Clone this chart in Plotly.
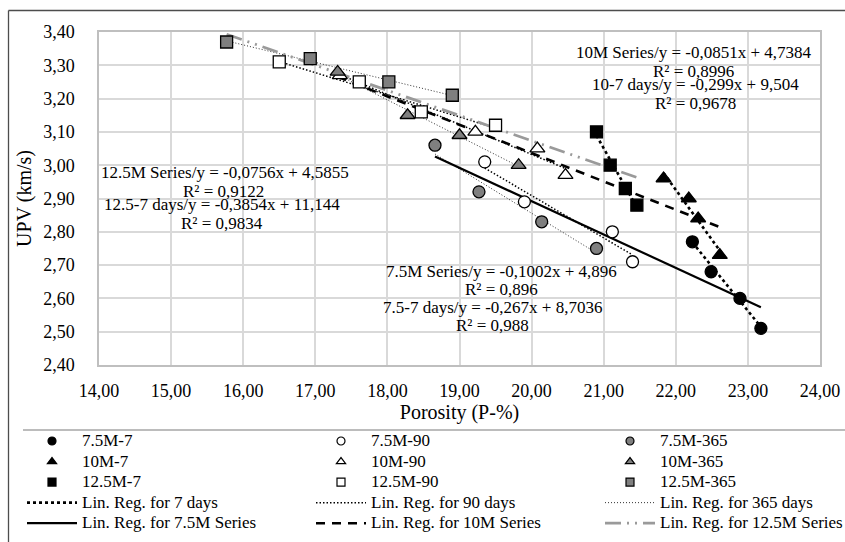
import numpy as np
import plotly.graph_objects as go

FONT = "Liberation Serif"

# ---------------- data: porosity (%) vs UPV (km/s) ----------------
x_75_7 = [22.23, 22.49, 22.89, 23.18]
y_75_7 = [2.77, 2.68, 2.60, 2.51]
x_75_90 = [19.35, 19.90, 21.12, 21.40]
y_75_90 = [3.01, 2.89, 2.80, 2.71]
x_75_365 = [18.66, 19.27, 20.14, 20.90]
y_75_365 = [3.06, 2.92, 2.83, 2.75]

x_10_7 = [21.83, 22.18, 22.31, 22.61]
y_10_7 = [2.96, 2.90, 2.84, 2.73]
x_10_90 = [17.34, 19.22, 20.08, 20.47]
y_10_90 = [3.27, 3.10, 3.05, 2.97]
x_10_365 = [17.31, 18.28, 19.00, 19.82]
y_10_365 = [3.28, 3.15, 3.09, 3.00]

x_125_7 = [20.90, 21.09, 21.30, 21.46]
y_125_7 = [3.10, 3.00, 2.93, 2.88]
x_125_90 = [16.50, 17.61, 18.47, 19.50]
y_125_90 = [3.31, 3.25, 3.16, 3.12]
x_125_365 = [15.77, 16.93, 18.02, 18.90]
y_125_365 = [3.37, 3.32, 3.25, 3.21]

mixes = ["7.5M", "10M", "12.5M"]
ages = ["7", "90", "365"]

# reported regression coefficients (slope, intercept)
slope_7days = [-0.267, -0.299, -0.3854]
icpt_7days = [8.7036, 9.504, 11.144]
slope_series = [-0.1002, -0.0851, -0.0756]
icpt_series = [4.896, 4.7384, 4.5855]

eq_series = ["7.5M Series/y = -0,1002x + 4,896", "10M Series/y = -0,0851x + 4,7384",
             "12.5M Series/y = -0,0756x + 4,5855"]
r2_series = ["R² = 0,896", "R² = 0,8996", "R² = 0,9122"]
eq_7days = ["7.5-7 days/y = -0,267x + 8,7036", "10-7 days/y = -0,299x + 9,504",
            "12.5-7 days/y = -0,3854x + 11,144"]
r2_7days = ["R² = 0,988", "R² = 0,9678", "R² = 0,9834"]

X = {("7.5M", "7"): x_75_7, ("7.5M", "90"): x_75_90, ("7.5M", "365"): x_75_365,
     ("10M", "7"): x_10_7, ("10M", "90"): x_10_90, ("10M", "365"): x_10_365,
     ("12.5M", "7"): x_125_7, ("12.5M", "90"): x_125_90, ("12.5M", "365"): x_125_365}
Y = {("7.5M", "7"): y_75_7, ("7.5M", "90"): y_75_90, ("7.5M", "365"): y_75_365,
     ("10M", "7"): y_10_7, ("10M", "90"): y_10_90, ("10M", "365"): y_10_365,
     ("12.5M", "7"): y_125_7, ("12.5M", "90"): y_125_90, ("12.5M", "365"): y_125_365}

# ---------------- styles ----------------
SYMBOL = {"7.5M": "circle", "10M": "triangle-up", "12.5M": "square"}
SIZE = {"7.5M": 12, "10M": 13, "12.5M": 12}
FILL = {"7": "black", "90": "white", "365": "#7f7f7f"}
LEG = {"7": "legend", "90": "legend2", "365": "legend3"}
AGE_LINE = {"7": dict(color="black", width=2.6, dash="3px,3px"),
            "90": dict(color="black", width=1.5, dash="1.5px,2px"),
            "365": dict(color="#333333", width=1.0, dash="1px,2px")}
SERIES_LINE = {"7.5M": dict(color="black", width=2.2, dash="solid"),
               "10M": dict(color="black", width=2.6, dash="9px,7px"),
               "12.5M": dict(color="#9a9a9a", width=2.8, dash="16px,6px,2px,6px,2px,6px")}
SERIES_LEG = {"7.5M": "legend", "10M": "legend2", "12.5M": "legend3"}


def lt(s):
    return '<span style="font-size:17px">' + s + '</span>'


fig = go.Figure()

# ---- regression lines per age ----
for age in ages:
    lx, ly = [], []
    for i, m in enumerate(mixes):
        xs = np.array(X[(m, age)])
        ys = np.array(Y[(m, age)])
        if age == "7":
            a, b = slope_7days[i], icpt_7days[i]
        else:
            a, b = np.polyfit(xs, ys, 1)
        x0, x1 = xs.min(), xs.max()
        lx += [x0, x1, None]
        ly += [a * x0 + b, a * x1 + b, None]
    fig.add_trace(go.Scatter(x=lx, y=ly, mode="lines", line=AGE_LINE[age],
                             name=lt("Lin. Reg. for %s days" % age), legend=LEG[age],
                             legendrank=4, hoverinfo="skip"))

# ---- regression lines per mix series ----
for i, m in enumerate(mixes):
    allx = np.concatenate([X[(m, a)] for a in ages])
    x0, x1 = allx.min(), allx.max()
    fig.add_trace(go.Scatter(x=[x0, x1],
                             y=[slope_series[i] * x0 + icpt_series[i], slope_series[i] * x1 + icpt_series[i]],
                             mode="lines", line=SERIES_LINE[m],
                             name=lt("Lin. Reg. for %s Series" % m), legend=SERIES_LEG[m],
                             legendrank=5, hoverinfo="skip"))

# ---- markers ----
for m in mixes:
    for age in ages:
        fig.add_trace(go.Scatter(x=X[(m, age)], y=Y[(m, age)], mode="markers",
                                 marker=dict(symbol=SYMBOL[m], size=SIZE[m], color=FILL[age],
                                             line=dict(color="black", width=1.3)),
                                 showlegend=False, name="%s-%s" % (m, age)))
        # compact legend entry (small marker, as in the original legend)
        fig.add_trace(go.Scatter(x=[None], y=[None], mode="markers",
                                 marker=dict(symbol=SYMBOL[m], size=8, color=FILL[age],
                                             line=dict(color="black", width=1.2)),
                                 name=lt("%s-%s" % (m, age)), legend=LEG[age],
                                 legendrank=mixes.index(m) + 1))

# ---- equation annotations ----
ann_font = dict(family=FONT, size=17, color="black")
ann_pos = {  # (x, y) centres, in data units
    "7.5M": [(19.58, 2.681), (19.58, 2.626), (19.46, 2.574), (19.46, 2.518)],
    "10M": [(22.25, 3.337), (22.25, 3.282), (22.27, 3.242), (22.27, 3.185)],
    "12.5M": [(15.75, 2.977), (15.72, 2.920), (15.71, 2.881), (15.71, 2.826)],
}
annotations = []
for i, m in enumerate(mixes):
    texts = [eq_series[i], r2_series[i], eq_7days[i], r2_7days[i]]
    for t, (ax, ay) in zip(texts, ann_pos[m]):
        annotations.append(dict(x=ax, y=ay, xref="x", yref="y", text=t, showarrow=False,
                                font=ann_font, xanchor="center", yanchor="middle"))

# ---- layout ----
W, H = 845, 542
L, R, T, B = 99, 25, 32, 542 - 365
pw, ph = W - L - R, H - T - B


def px(xp):
    return (xp - L) / pw


def py(yp):
    return (H - B - yp) / ph


shapes = [
    # outer chart border (top & left)
    dict(type="line", xref="paper", yref="paper", x0=px(8.5), x1=px(860), y0=py(10.5), y1=py(10.5),
         line=dict(color="#4d4d4d", width=1.3)),
    dict(type="line", xref="paper", yref="paper", x0=px(8.5), x1=px(8.5), y0=py(10.5), y1=py(560),
         line=dict(color="#4d4d4d", width=1.3)),
    # legend top border
    dict(type="line", xref="paper", yref="paper", x0=px(23), x1=px(860), y0=py(430), y1=py(430),
         line=dict(color="#a6a6a6", width=1.6)),
]

legend_common = dict(font=dict(family=FONT, size=13.5, color="black"), itemwidth=50,
                     tracegroupgap=0, bgcolor="rgba(0,0,0,0)", xref="paper", yref="paper",
                     xanchor="left", yanchor="top", y=py(425.7), traceorder="normal",
                     orientation="v")

fig.update_layout(
    width=W, height=H, margin=dict(l=L, r=R, t=T, b=B, autoexpand=False),
    paper_bgcolor="white", plot_bgcolor="white",
    separators=", ",
    font=dict(family=FONT, color="black"),
    showlegend=True,
    legend=dict(legend_common, x=px(22)),
    legend2=dict(legend_common, x=px(311)),
    legend3=dict(legend_common, x=px(600)),
    annotations=annotations,
    shapes=shapes,
    xaxis=dict(range=[14, 24], tick0=14, dtick=1, tickformat=".2f", showgrid=True,
               gridcolor="#d9d9d9", gridwidth=1.5, zeroline=False, showline=True,
               linecolor="#bfbfbf", linewidth=1.5, mirror=True,
               ticks="outside", ticklen=9, tickcolor="rgba(0,0,0,0)",
               automargin=True,
               tickfont=dict(family=FONT, size=18, color="black"),
               title=dict(text="Porosity (P-%)", font=dict(family=FONT, size=20, color="black"),
                          standoff=2)),
    yaxis=dict(range=[2.4, 3.4], tick0=2.4, dtick=0.1, tickformat=".2f", showgrid=True,
               gridcolor="#d9d9d9", gridwidth=1.5, zeroline=False, showline=True,
               linecolor="#bfbfbf", linewidth=1.5, mirror=True,
               ticks="outside", ticklen=19, tickcolor="rgba(0,0,0,0)",
               automargin=True,
               tickfont=dict(family=FONT, size=18, color="black"),
               title=dict(text="UPV (km/s)", font=dict(family=FONT, size=20, color="black"),
                          standoff=6)),
)

# remove the browser's default 8px body margin so the figure fills the window exactly
fig.write_html("out.html", config={"displayModeBar": False},
               post_script="document.body.style.margin='0px';document.body.style.overflow='hidden';")
